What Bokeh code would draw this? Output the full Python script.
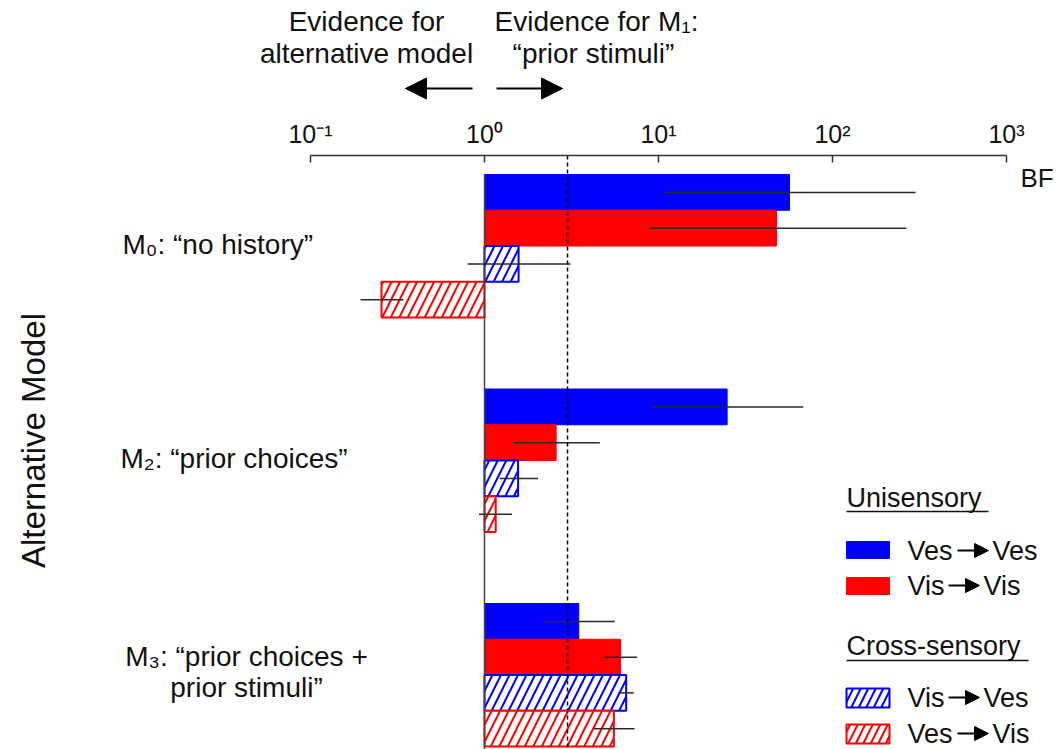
import math

from bokeh.plotting import figure
from bokeh.models import Range1d, FixedTicker, Label, Arrow, NormalHead, BoxAnnotation
from bokeh.embed import file_html
from bokeh.resources import INLINE

# Bayes factors in favour of M1 ("prior stimuli") against each alternative model
models = ["M₀", "M₂", "M₃"]
model_desc = [["“no history”"], ["“prior choices”"], ["“prior choices +", "prior stimuli”"]]
conditions = ["Ves→Ves", "Vis→Vis", "Vis→Ves", "Ves→Vis"]
groups = ["Unisensory", "Cross-sensory"]

bf_ves_ves = [56.6, 24.8, 3.48]
bf_vis_vis = [47.7, 2.58, 6.05]
bf_vis_ves = [1.57, 1.56, 6.52]
bf_ves_vis = [0.256, 1.16, 5.54]

lo_ves_ves = [10.7, 9.2, 2.17]
hi_ves_ves = [300.0, 67.9, 5.61]
lo_vis_vis = [8.88, 1.47, 4.91]
hi_vis_vis = [266.0, 4.6, 7.54]
lo_vis_ves = [0.80, 1.22, 5.87]
hi_vis_ves = [3.12, 2.03, 7.21]
lo_ves_vis = [0.194, 0.93, 4.25]
hi_ves_vis = [0.342, 1.44, 7.28]

bf_threshold = 3
tick_values = [0.1, 1, 10, 100, 1000]
tick_labels = ["10⁻¹", "10⁰", "10¹", "10²", "10³"]

# ---- layout -------------------------------------------------------------
# The frame fills the whole canvas; the BF axis is pinned near the top so
# that the side texts and the key share the same drawing surface.
W, H = 1058, 749
AX_L, AX_R = 310, 1006      # pixel span of the BF axis (10^-1 .. 10^3)
AX_Y = 155                  # pixel row of the BF axis line
BAR_TOP = 174               # pixel row where the first bar starts
UNIT = 35.75                # pixels per bar slot
DECADE = (AX_R - AX_L) / (math.log10(tick_values[-1]) - math.log10(tick_values[0]))
PX_ONE = AX_L + DECADE * (0 - math.log10(tick_values[0]))   # pixel of BF = 1


def xd(px):
    return 10 ** ((px - PX_ONE) / DECADE)


def yd(py):
    return -(py - BAR_TOP) / UNIT


FONT = "Liberation Sans"
INK = "#111111"

p = figure(width=W, height=H, x_axis_type="log",
           x_range=Range1d(xd(0), xd(W)), y_range=Range1d(yd(H), yd(0)),
           x_axis_location="above", y_axis_location=None,
           min_border_left=0, min_border_right=0,
           min_border_top=0, min_border_bottom=0,
           toolbar_location=None, output_backend="svg",
           outline_line_color=None, background_fill_color="white")
p.xgrid.visible = False
p.ygrid.visible = False

ax = p.xaxis[0]
ax.fixed_location = yd(AX_Y)
ax.bounds = (tick_values[0], tick_values[-1])
ax.ticker = FixedTicker(ticks=tick_values, minor_ticks=[])
ax.major_label_overrides = dict(zip(tick_values, tick_labels))
ax.major_tick_in = 7
ax.major_tick_out = 0
ax.minor_tick_line_color = None
ax.axis_line_color = "#333333"
ax.axis_line_width = 1.5
ax.major_tick_line_color = "#333333"
ax.major_tick_line_width = 1.5
ax.major_label_text_font = FONT
ax.major_label_text_font_size = "25px"
ax.major_label_text_color = INK
ax.major_label_standoff = 8

BLUE, RED = "#0000ff", "#ff0000"
series = [
    (bf_ves_ves, lo_ves_ves, hi_ves_ves, BLUE, False),
    (bf_vis_vis, lo_vis_vis, hi_vis_vis, RED, False),
    (bf_vis_ves, lo_vis_ves, hi_vis_ves, BLUE, True),
    (bf_ves_vis, lo_ves_vis, hi_ves_vis, RED, True),
]

SLOTS = 6   # four bars plus a two-slot gap per model
error_rows = []
for j, (vals, lo, hi, color, hatched) in enumerate(series):
    ys = [-(SLOTS * g + j + 0.5) for g in range(len(models))]
    left = [min(1, v) for v in vals]
    right = [max(1, v) for v in vals]
    if hatched:
        p.hbar(y=ys, height=1, left=left, right=right,
               fill_color="white", line_color=color, line_width=2,
               hatch_pattern="/", hatch_color=color, hatch_scale=17,
               hatch_weight=2)
    else:
        p.hbar(y=ys, height=1, left=left, right=right,
               fill_color=color, line_color=color, line_width=1)
    error_rows.append((ys, lo, hi))

y_floor = yd(H)
# baseline at BF = 1
p.segment(x0=[1], x1=[1], y0=[0], y1=[y_floor], line_color="#444444", line_width=1.5)

for ys, lo, hi in error_rows:
    p.segment(x0=lo, x1=hi, y0=ys, y1=ys, line_color="#2a2a2a", line_width=1.5)

# evidence threshold BF = 3
p.segment(x0=[bf_threshold], x1=[bf_threshold], y0=[yd(AX_Y)], y1=[y_floor],
          line_color="black", line_width=1.5, line_dash="4 3")


def lab(text, px, py, size, align="left", angle=0.0):
    p.add_layout(Label(x=xd(px), y=yd(py), text=text, text_font=FONT,
                       text_font_size=f"{size}px", text_align=align,
                       text_baseline="middle", text_color=INK, angle=angle))


def arrow(px0, px1, py, size, width):
    p.add_layout(Arrow(x_start=xd(px0), y_start=yd(py), x_end=xd(px1), y_end=yd(py),
                       line_color="black", line_width=width,
                       end=NormalHead(size=size, fill_color="black",
                                      line_color="black", line_width=1)))


def rule(px0, px1, py):
    p.add_layout(Arrow(x_start=xd(px0), y_start=yd(py), x_end=xd(px1), y_end=yd(py),
                       line_color=INK, line_width=1.5, end=None))


# direction of evidence
lab("Evidence for", 366, 21, 28, "center")
lab("alternative model", 366, 53, 28, "center")
lab("Evidence for M₁:", 596, 21, 28, "center")
lab("“prior stimuli”", 593, 53, 28, "center")
arrow(472, 405, 88, 21, 2)
arrow(496, 562, 88, 21, 2)

lab("BF", 1020, 177, 26)

# model names
lab(f"{models[0]}: {model_desc[0][0]}", 122, 244, 28)
lab(f"{models[1]}: {model_desc[1][0]}", 120, 458, 28)
lab(f"{models[2]}: {model_desc[2][0]}", 246, 656, 28, "center")
lab(model_desc[2][1], 246, 687, 28, "center")

lab("Alternative Model", 33, 440, 33, "center", math.pi / 2)

# key
key_rows = [(541, 558, 550), (577, 594, 585), (688, 707, 697), (724, 743, 733)]
header_rows = [(497, 511, 988), (645, 660, 1028)]
for k, (mid, uline, uend) in enumerate(header_rows):
    lab(groups[k], 846, mid, 27)
    rule(846, uend, uline)

word_w = {"Ves": 46, "Vis": 37}
for j, (top, bot, mid) in enumerate(key_rows):
    color, hatched = series[j][3], series[j][4]
    box = dict(left=xd(846), right=xd(889), top=yd(top), bottom=yd(bot),
               line_color=color, line_alpha=1, fill_alpha=1)
    if hatched:
        box.update(fill_color="white", line_width=2, hatch_pattern="/",
                   hatch_color=color, hatch_scale=15, hatch_weight=2, hatch_alpha=1)
    else:
        box.update(fill_color=color, line_width=1)
    p.add_layout(BoxAnnotation(**box))
    src, dst = conditions[j].split("→")
    lab(src, 907, mid, 27)
    a0 = 907 + word_w[src] + 4
    arrow(a0, a0 + 31, mid, 14, 2)
    lab(dst, a0 + 35, mid, 27)

open("out.html", "w").write(file_html(p, INLINE))
